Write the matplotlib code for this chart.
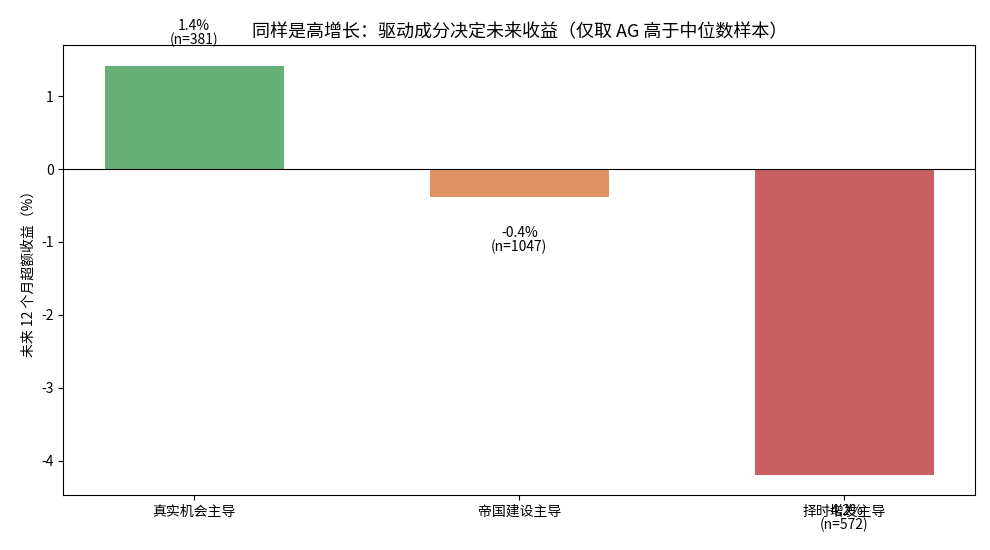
import matplotlib
matplotlib.use("Agg")
import matplotlib.pyplot as plt

plt.rcParams['font.family'] = ['Noto Sans CJK SC', 'DejaVu Sans']
plt.rcParams['axes.unicode_minus'] = False

# data
groups = ['真实机会主导', '帝国建设主导', '择时增发主导']
excess_ret = [1.42, -0.38, -4.19]
n_obs = [381, 1047, 572]
colors = ['#55A868', '#DD8452', '#C44E52']

fig, ax = plt.subplots(figsize=(9.9, 5.5), dpi=100)
x = list(range(len(groups)))
ax.bar(x, excess_ret, width=0.55, color=colors, alpha=0.9)
ax.axhline(0, color='black', linewidth=0.8)

# value labels
for xi, v, n in zip(x, excess_ret, n_obs):
    if v >= 0:
        ax.text(xi, v + 0.25, f'{v:.1f}%\n(n={n})', ha='center', va='bottom',
                fontsize=10, linespacing=0.95)
    else:
        ax.text(xi, v - 0.4, f'{v:.1f}%\n(n={n})', ha='center', va='top',
                fontsize=10, linespacing=0.95)

ax.set_xticks(x)
ax.set_xticklabels(groups, fontsize=10)
ax.set_ylabel('未来 12 个月超额收益（%）', fontsize=10)
ax.set_title('同样是高增长：驱动成分决定未来收益（仅取 AG 高于中位数样本）', fontsize=13)

fig.subplots_adjust(left=0.064, right=0.985, top=0.918, bottom=0.1)
fig.savefig('out.png', dpi=100)
